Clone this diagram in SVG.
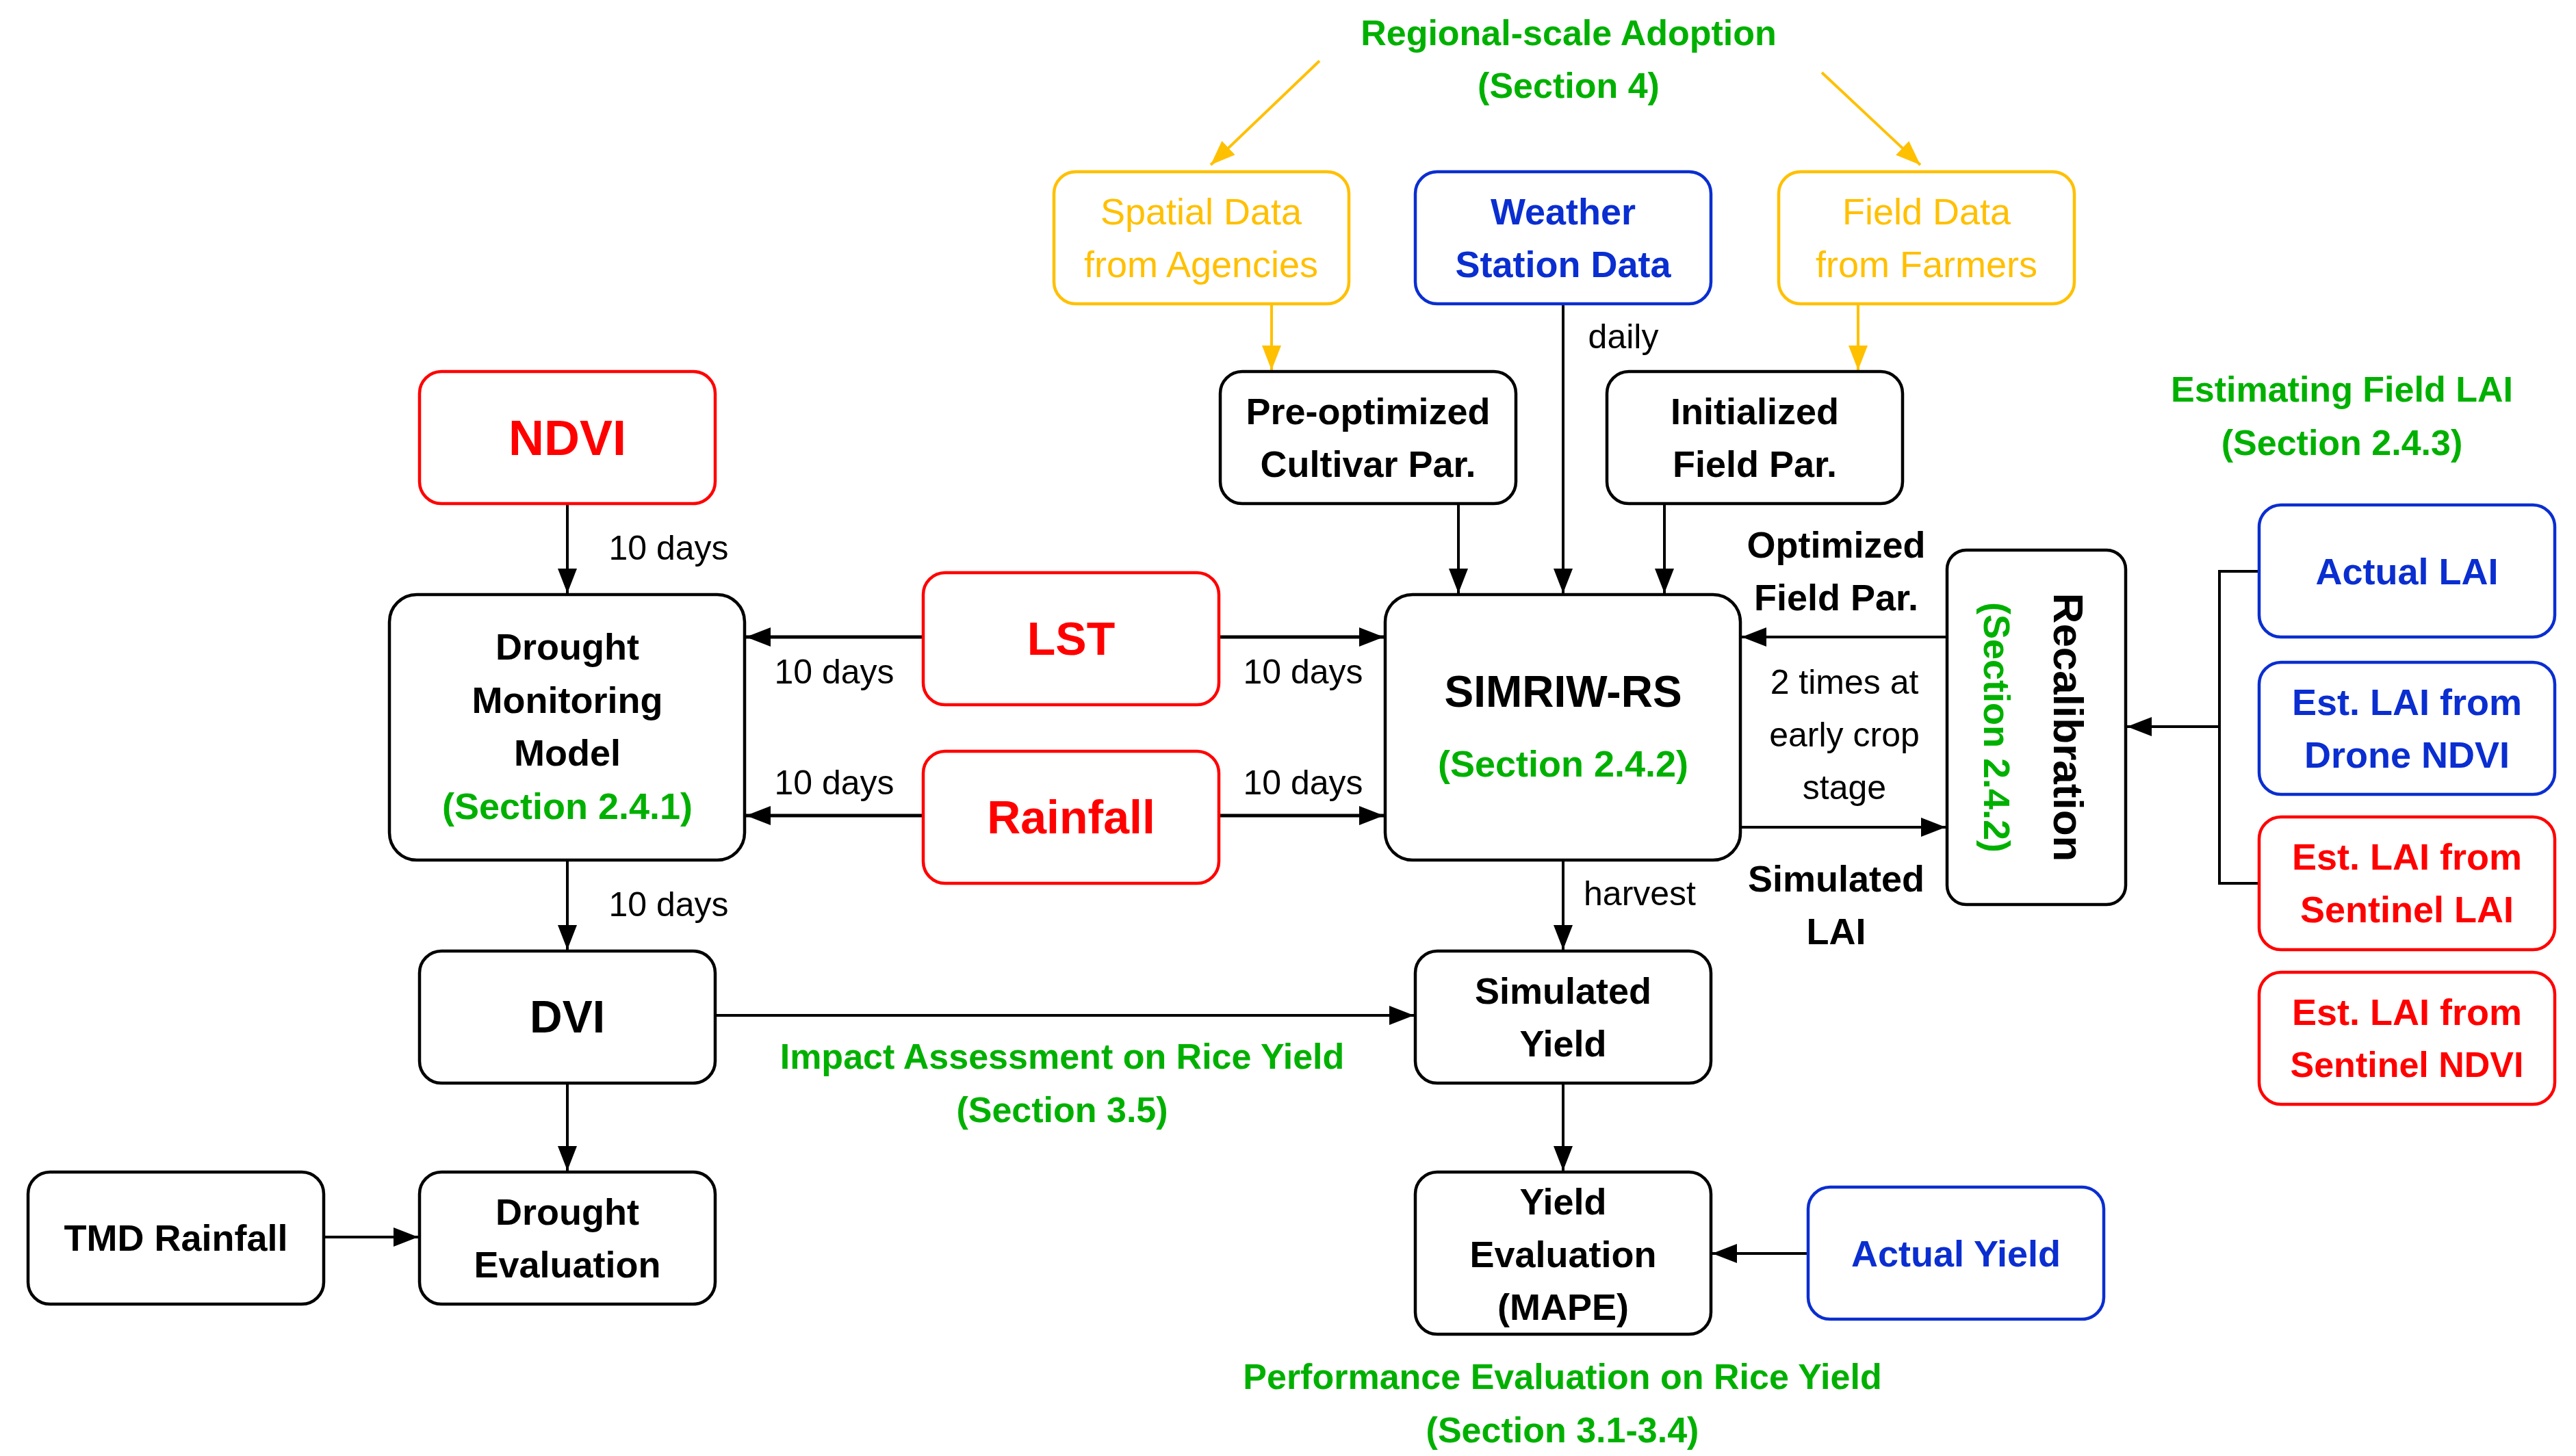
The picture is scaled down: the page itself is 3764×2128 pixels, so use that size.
<svg xmlns="http://www.w3.org/2000/svg" width="3764" height="2128" viewBox="0 0 3764 2128">
<style>
text{font-family:"Liberation Sans",Arial,sans-serif;text-anchor:middle;dominant-baseline:central}
.b{fill:#fff;stroke-width:4.5}
.k{stroke:#000}.r{stroke:#f00}.u{stroke:#0a2ed0}.y{stroke:#ffc000}
.t{font-size:54px;font-weight:bold;fill:#000}
.tr{font-size:56px;fill:#f00}.tu{font-size:54px;fill:#0a2ed0}.ty{font-size:54px;fill:#ffc000}
.g{font-size:52px;font-weight:bold;fill:#00b000}
.l{font-size:50px;fill:#000}
.c{fill:none;stroke:#000;stroke-width:4;marker-end:url(#ab)}
.cy{fill:none;stroke:#ffc000;stroke-width:4;marker-end:url(#ay)}
</style>
<defs>
<marker id="ab" viewBox="0 0 10 10" refX="10" refY="5" markerWidth="36" markerHeight="28" orient="auto" markerUnits="userSpaceOnUse" preserveAspectRatio="none"><path d="M0,0L10,5L0,10z" fill="#000"/></marker>
<marker id="ay" viewBox="0 0 10 10" refX="10" refY="5" markerWidth="36" markerHeight="28" orient="auto" markerUnits="userSpaceOnUse" preserveAspectRatio="none"><path d="M0,0L10,5L0,10z" fill="#ffc000"/></marker>
</defs>
<rect width="3764" height="2128" fill="#fff"/>
<g id="connectors">
<path class="c" d="M829,736V867"/>
<path class="c" d="M1349,931H1090" style="stroke-width:5"/>
<path class="c" d="M1781,931H2022" style="stroke-width:5"/>
<path class="c" d="M1349,1192H1090" style="stroke-width:5"/>
<path class="c" d="M1781,1192H2022" style="stroke-width:5"/>
<path class="c" d="M829,1257V1388"/>
<path class="c" d="M1045,1484H2066"/>
<path class="c" d="M829,1583V1711"/>
<path class="c" d="M473,1808H611"/>
<path class="c" d="M2284,1583V1711"/>
<path class="c" d="M2642,1832H2502"/>
<path class="c" d="M2284,1257V1388"/>
<path class="c" d="M2284,444V867"/>
<path class="c" d="M2131,736V867"/>
<path class="c" d="M2432,736V867"/>
<path class="c" d="M2845,931H2545"/>
<path class="c" d="M2543,1209H2843"/>
<path fill="none" stroke="#000" stroke-width="4" d="M3301,835H3243V1291H3301"/>
<path class="c" d="M3243,1062H3108"/>
<path class="cy" d="M1858,444V541"/>
<path class="cy" d="M2715,444V541"/>
<path class="cy" d="M1928,89L1769,241"/>
<path class="cy" d="M2662,106L2806,241"/>
<text class="l" x="977" y="801">10 days</text>
<text class="l" x="1219" y="982">10 days</text>
<text class="l" x="1904" y="982">10 days</text>
<text class="l" x="1219" y="1144">10 days</text>
<text class="l" x="1904" y="1144">10 days</text>
<text class="l" x="977" y="1322">10 days</text>
<text class="l" x="2396" y="1306">harvest</text>
<text class="l" x="2372" y="492">daily</text>
<text class="t" x="2683" y="796">Optimized</text>
<text class="t" x="2683" y="873">Field Par.</text>
<text class="l" x="2695" y="997">2 times at</text>
<text class="l" x="2695" y="1074">early crop</text>
<text class="l" x="2695" y="1151">stage</text>
<text class="t" x="2683" y="1284">Simulated</text>
<text class="t" x="2683" y="1361">LAI</text>
</g>
<g id="titles">
<text class="g" x="2292" y="48">Regional-scale Adoption</text>
<text class="g" x="2292" y="125">(Section 4)</text>
<text class="g" x="3422" y="569">Estimating Field LAI</text>
<text class="g" x="3422" y="647">(Section 2.4.3)</text>
<text class="g" x="1552" y="1544">Impact Assessment on Rice Yield</text>
<text class="g" x="1552" y="1622">(Section 3.5)</text>
<text class="g" x="2283" y="2012">Performance Evaluation on Rice Yield</text>
<text class="g" x="2283" y="2090">(Section 3.1-3.4)</text>
</g>
<g id="ndvi"><rect class="b r" x="613" y="543" width="432" height="193" rx="32"/><text class="tr" x="829" y="640" style="font-size:72px;font-weight:bold">NDVI</text></g>
<g id="dmm"><rect class="b k" x="569" y="869" width="519" height="388" rx="40"/><text class="t" x="829" y="945">Drought</text><text class="t" x="829" y="1023">Monitoring</text><text class="t" x="829" y="1100">Model</text><text class="g" x="829" y="1178" style="font-size:54px">(Section 2.4.1)</text></g>
<g id="lst"><rect class="b r" x="1349" y="837" width="432" height="193" rx="32"/><text class="tr" x="1565" y="933" style="font-size:68px;font-weight:bold">LST</text></g>
<g id="rainfall"><rect class="b r" x="1349" y="1098" width="432" height="193" rx="32"/><text class="tr" x="1565" y="1194" style="font-size:68px;font-weight:bold">Rainfall</text></g>
<g id="dvi"><rect class="b k" x="613" y="1390" width="432" height="193" rx="32"/><text class="t" x="829" y="1486" style="font-size:66px">DVI</text></g>
<g id="drought-eval"><rect class="b k" x="613" y="1713" width="432" height="193" rx="32"/><text class="t" x="829" y="1771">Drought</text><text class="t" x="829" y="1848">Evaluation</text></g>
<g id="tmd"><rect class="b k" x="41" y="1713" width="432" height="193" rx="32"/><text class="t" x="257" y="1809">TMD Rainfall</text></g>
<g id="spatial"><rect class="b y" x="1540" y="251" width="431" height="193" rx="32"/><text class="ty" x="1755" y="309">Spatial Data</text><text class="ty" x="1755" y="386">from Agencies</text></g>
<g id="weather"><rect class="b u" x="2068" y="251" width="432" height="193" rx="32"/><text class="tu" x="2284" y="309" style="font-weight:bold">Weather</text><text class="tu" x="2284" y="386" style="font-weight:bold">Station Data</text></g>
<g id="field"><rect class="b y" x="2599" y="251" width="432" height="193" rx="32"/><text class="ty" x="2815" y="309">Field Data</text><text class="ty" x="2815" y="386">from Farmers</text></g>
<g id="preopt"><rect class="b k" x="1783" y="543" width="432" height="193" rx="32"/><text class="t" x="1999" y="601">Pre-optimized</text><text class="t" x="1999" y="678">Cultivar Par.</text></g>
<g id="init"><rect class="b k" x="2348" y="543" width="432" height="193" rx="32"/><text class="t" x="2564" y="601">Initialized</text><text class="t" x="2564" y="678">Field Par.</text></g>
<g id="simriw"><rect class="b k" x="2024" y="869" width="519" height="388" rx="40"/><text class="t" x="2284" y="1011" style="font-size:64px">SIMRIW-RS</text><text class="g" x="2284" y="1116" style="font-size:54px">(Section 2.4.2)</text></g>
<g id="recal"><rect class="b k" x="2845" y="804" width="261" height="518" rx="28"/><text class="t" transform="translate(3022,1063) rotate(90)" style="font-size:62px">Recalibration</text><text class="g" transform="translate(2918,1063) rotate(90)" style="font-size:54px">(Section 2.4.2)</text></g>
<g id="sim-yield"><rect class="b k" x="2068" y="1390" width="432" height="193" rx="32"/><text class="t" x="2284" y="1448">Simulated</text><text class="t" x="2284" y="1525">Yield</text></g>
<g id="yield-eval"><rect class="b k" x="2068" y="1713" width="432" height="237" rx="32"/><text class="t" x="2284" y="1756">Yield</text><text class="t" x="2284" y="1833">Evaluation</text><text class="t" x="2284" y="1910">(MAPE)</text></g>
<g id="actual-yield"><rect class="b u" x="2642" y="1735" width="432" height="193" rx="32"/><text class="tu" x="2858" y="1832" style="font-weight:bold">Actual Yield</text></g>
<g id="actual-lai"><rect class="b u" x="3301" y="738" width="432" height="193" rx="32"/><text class="tu" x="3517" y="835" style="font-weight:bold">Actual LAI</text></g>
<g id="drone"><rect class="b u" x="3301" y="968" width="432" height="193" rx="32"/><text class="tu" x="3517" y="1026" style="font-weight:bold">Est. LAI from</text><text class="tu" x="3517" y="1103" style="font-weight:bold">Drone NDVI</text></g>
<g id="sent-lai"><rect class="b r" x="3301" y="1194" width="432" height="194" rx="32"/><text class="tr" x="3517" y="1252" style="font-size:54px;font-weight:bold">Est. LAI from</text><text class="tr" x="3517" y="1329" style="font-size:54px;font-weight:bold">Sentinel LAI</text></g>
<g id="sent-ndvi"><rect class="b r" x="3301" y="1421" width="432" height="193" rx="32"/><text class="tr" x="3517" y="1479" style="font-size:54px;font-weight:bold">Est. LAI from</text><text class="tr" x="3517" y="1556" style="font-size:52px;font-weight:bold">Sentinel NDVI</text></g>
</svg>
